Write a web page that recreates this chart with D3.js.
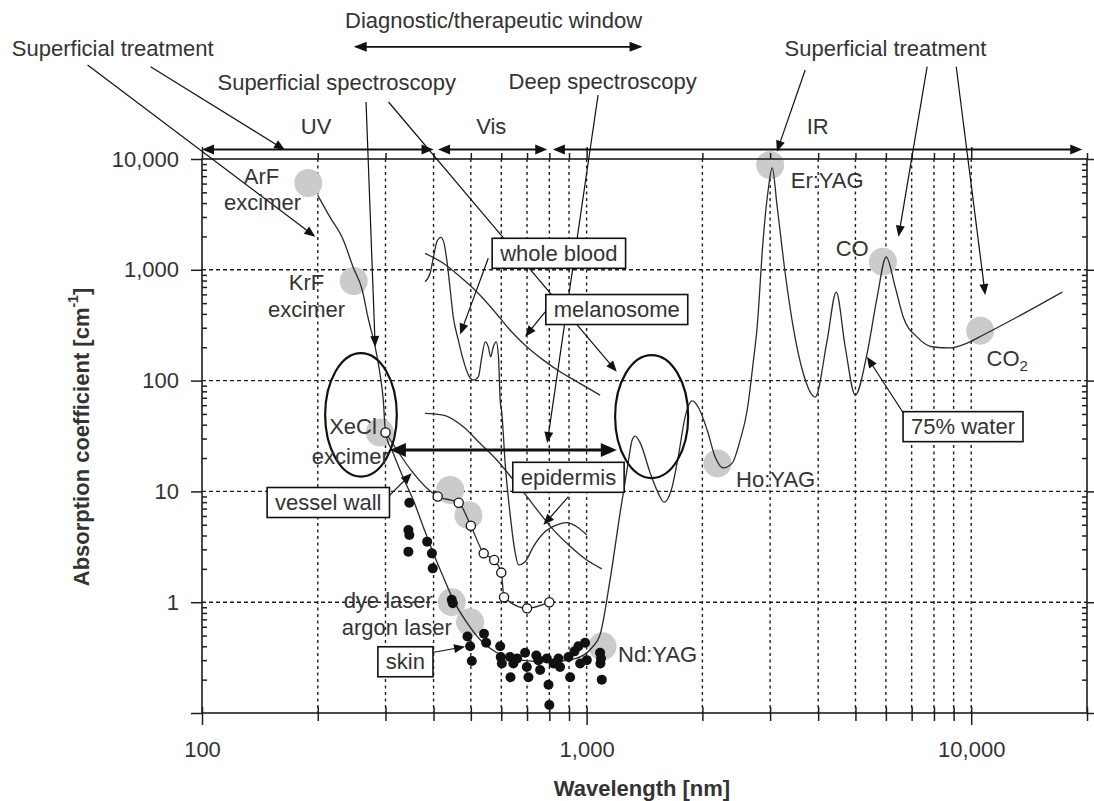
<!DOCTYPE html>
<html>
<head>
<meta charset="utf-8">
<script src="https://cdn.jsdelivr.net/npm/d3@7"></script>
<style>
  body { margin: 0; background: #fff; }
  text { font-family: "Liberation Sans", Arial, Helvetica, sans-serif; fill: #333; }
</style>
</head>
<body>
<svg id="chart" width="1094" height="801"></svg>
<script>
// ---- data: wavelength [nm], absorption coefficient [cm^-1] ----
const skinWater = [[200,4700],[215,3000],[233,1860],[247,1060],[261,657],[270,375],[282,201],[290,117],[296,67],[300,34],
  [314,22.2],[333,13.5],[354,8.4],[376,4.8],[399,2.8],[424,1.69],[450,1.05],[489,0.65],[528,0.46],[585,0.35],[671,0.30],
  [804,0.29],[934,0.31],[1033,0.39],[1084,0.51],[1151,1.6],[1222,6.4],[1282,18],[1313,29],[1337,31.6],[1378,27.4],
  [1463,14.7],[1534,9.7],[1590,8.0],[1669,11],[1730,20.4],[1804,47],[1881,65.5],[1950,57.8],[2058,35.8],[2159,20.4],
  [2265,16.3],[2390,18],[2507,29],[2615,54],[2710,144],[2776,305],[2877,1860],[2965,5250],[3038,8300],[3130,3690],
  [3283,936],[3444,305],[3656,117],[3929,71],[4222,232],[4457,630],[4703,201],[4994,74],[5364,177],[5694,568],
  [6011,1305],[6343,700],[6656,375],[7237,247],[7964,201],[8815,197],[9763,218],[10745,258],[13170,375],[17250,630]];
const wholeBlood = [[380,781],[392,936],[400,1313],[408,1793],[418,1965],[426,1734],[433,1226],[442,657],[450,377],
  [464,232],[478,153],[493,112],[508,101],[523,108],[534,164],[545,224],[555,202],[563,164],[572,202],[582,224],
  [590,164],[596,67],[602,51],[614,18],[632,6.4],[652,2.8],[665,2.17],[692,2.32],[727,3.17],[772,4.19],[837,4.98],
  [888,5.22],[943,4.8],[1001,4.04]];
const melanosome = [[380,1409],[424,1145],[469,866],[518,634],[572,434],[632,286],[699,202],[772,153],[853,120],[943,98],[1084,74]];
const epidermis = [[380,50.7],[424,48.9],[478,38.4],[528,27.2],[584,19.2],[645,12.7],[699,9.0],[757,6.3],[820,4.5],[906,3.2],[1001,2.4],[1095,2.0]];
const vesselWall = [[300,34],[410,9.0],[465,7.9],[500,4.9],[540,2.76],[575,2.4],[600,1.85],[610,1.11],[700,0.88],[800,1.0]];
const skinDots = [[346,7.9],[344,4.48],[346,4.04],[344,2.86],[385,3.52],[396,2.76],[398,2.02],[446,1.05],[449,0.98],
  [490,0.49],[498,0.40],[503,0.295],[541,0.52],[548,0.43],[596,0.40],[598,0.32],[602,0.28],[632,0.32],[634,0.21],
  [645,0.28],[660,0.31],[692,0.35],[699,0.26],[706,0.21],[740,0.33],[749,0.30],[757,0.244],[788,0.31],[796,0.18],
  [800,0.118],[820,0.28],[845,0.31],[853,0.26],[897,0.32],[906,0.21],[930,0.36],[952,0.40],[962,0.28],[991,0.43],
  [1001,0.30],[1084,0.35],[1086,0.28],[1090,0.31],[1095,0.2]];
const laserSpots = [[189,6070],[248,792],[290,34],[442,10.3],[493,6.1],[446,1.0],[498,0.66],[1100,0.40],[2189,17.9],[3001,8830],[5893,1183],[10550,282]];

// ---- axes ----
const xGrid = [200,300,400,500,600,700,800,900,1000,2000,3000,4000,5000,6000,7000,8000,9000,10000];
const xMajor = [100,1000,10000];
const xMajorLabels = ['100','1,000','10,000'];
const yMajor = [0.1,1,10,100,1000,10000];
const yMajorLabels = ['','1','10','100','1,000','10,000'];
const yGrid = [1,10,100,1000];
const yMinor = [];
[0.1,1,10,100,1000].forEach(d => { for (let k = 2; k <= 9; k++) yMinor.push(d * k); });

// ---- annotations (anchored in data units) ----
const textLabels = [['ArF',142.8,7022],['excimer',143.7,4010],['KrF',187,768],['excimer',187,434],
  ['XeCl',247,38.4],['excimer',243,20.6],['dye laser',305,1.03],['argon laser',321,0.59],
  ['Nd:YAG',1530,0.334],['Ho:YAG',3101,12.9],['Er:YAG',4222,6460],['CO',4903,1572]];
const boxLabels = [['whole blood',847,1409],['melanosome',1198,438],['epidermis',897,13.4],
  ['vessel wall',213,7.94],['skin',338,0.29],['75% water',9521,38.4]];
const headerLabels = [['Diagnostic/therapeutic window',573,177000],['Superficial treatment',58.6,98400],
  ['Superficial spectroscopy',224,48800],['Deep spectroscopy',1101,49840],['Superficial treatment',5985,100400],
  ['UV',198,19450],['Vis',565,19450],['IR',3988,19450]];
const leaders = [[50.4,70550,197,1989],[73.5,68080,164.4,12060],[267,32690,282,201],[305.5,32690,1198,120],
  [1071,37800,790,27.3],[3701,63560,3124,11640],[7680,68080,6471,1989],[9141,68080,10875,592],
  [555,1270,469,260],[788,434,692,249],[897,8.96,772,4.97],[302,8.66,351,14.6],[388,0.346,483,0.397],
  [6668,50.7,5356,164]];
const bandArrows = [[100,400],[411,790],[817,19440]];
const bandLevel = 12180;
const windowArrow = [248,1398,103000];
const therapyArrow = [308,1198,23.6];
const ellipses = [[209,321,13.6,177],[1186,1837,13.2,170]];

const svg = d3.select('#chart');
const x = d3.scaleLog().domain([100, 20000]).range([202, 1087]);
const y = d3.scaleLog().domain([0.1, 10000]).range([713, 159]);
const [x0, x1] = x.range();
const [y0, y1] = y.range();
const ink = '#1e1e1e';

// grid
svg.append('g').selectAll('line').data(xGrid).join('line')
  .attr('x1', d => x(d)).attr('x2', d => x(d)).attr('y1', y1).attr('y2', y0)
  .attr('stroke', ink).attr('stroke-width', 1.4).attr('stroke-dasharray', '3,3.5');
svg.append('g').selectAll('line').data(yGrid).join('line')
  .attr('x1', x0).attr('x2', x1).attr('y1', d => y(d)).attr('y2', d => y(d))
  .attr('stroke', ink).attr('stroke-width', 1.4).attr('stroke-dasharray', '4,3');

// laser spots
svg.append('g').selectAll('circle').data(laserSpots).join('circle')
  .attr('cx', d => x(d[0])).attr('cy', d => y(d[1])).attr('r', 14).attr('fill', '#cbcbcb');

// curves
const line = d3.line().x(d => x(d[0])).y(d => y(d[1])).curve(d3.curveMonotoneX);
[skinWater, wholeBlood, melanosome, epidermis, vesselWall].forEach(s => {
  svg.append('path').datum(s).attr('d', line).attr('fill', 'none')
    .attr('stroke', '#2a2a2a').attr('stroke-width', 1.3);
});
svg.append('g').selectAll('circle').data(skinDots).join('circle')
  .attr('cx', d => x(d[0])).attr('cy', d => y(d[1])).attr('r', 5).attr('fill', '#111');
svg.append('g').selectAll('circle').data(vesselWall).join('circle')
  .attr('cx', d => x(d[0])).attr('cy', d => y(d[1])).attr('r', 4.6)
  .attr('fill', '#fff').attr('stroke', '#111').attr('stroke-width', 1.3);

// ellipses
svg.append('g').selectAll('ellipse').data(ellipses).join('ellipse')
  .attr('cx', d => (x(d[0]) + x(d[1])) / 2).attr('cy', d => (y(d[2]) + y(d[3])) / 2)
  .attr('rx', d => (x(d[1]) - x(d[0])) / 2).attr('ry', d => (y(d[2]) - y(d[3])) / 2)
  .attr('fill', 'none').attr('stroke', '#111').attr('stroke-width', 2.2);

// frame + axes
svg.append('rect').attr('x', x0).attr('y', y1).attr('width', x1 - x0).attr('height', y0 - y1)
  .attr('fill', 'none').attr('stroke', ink).attr('stroke-width', 1.6);

function styleAxis(g) {
  g.select('.domain').remove();
  g.selectAll('.tick line').attr('stroke', ink).attr('stroke-width', 1.5);
  g.selectAll('.tick text').style('font-size', '22px').attr('fill', '#333')
    .style('font-family', '"Liberation Sans", Arial, sans-serif');
}
const xMinorTicks = xGrid.filter(d => xMajor.indexOf(d) < 0).concat([20000]);
svg.append('g').attr('transform', `translate(0,${y0})`)
  .call(d3.axisBottom(x).tickValues(xMinorTicks).tickSize(8).tickFormat(''))
  .call(styleAxis).selectAll('.tick line').attr('y1', -6);
svg.append('g').attr('transform', `translate(0,${y0})`)
  .call(d3.axisBottom(x).tickValues(xMajor).tickSize(12).tickPadding(16)
    .tickFormat((d, i) => xMajorLabels[i]))
  .call(styleAxis).selectAll('.tick line').attr('y1', -6);
svg.append('g').attr('transform', `translate(0,${y1})`)
  .call(d3.axisTop(x).tickValues(xMinorTicks).tickSize(6).tickFormat('')).call(styleAxis);
svg.append('g').attr('transform', `translate(0,${y1})`)
  .call(d3.axisTop(x).tickValues(xMajor).tickSize(12).tickFormat('')).call(styleAxis);

svg.append('g').attr('transform', `translate(${x0},0)`)
  .call(d3.axisLeft(y).tickValues(yMajor).tickSize(11).tickPadding(12)
    .tickFormat((d, i) => yMajorLabels[i]))
  .call(styleAxis);
svg.append('g').attr('transform', `translate(${x0},0)`)
  .call(d3.axisRight(y).tickValues(yMinor).tickSize(5).tickFormat('')).call(styleAxis);
svg.append('g').attr('transform', `translate(${x1},0)`)
  .call(d3.axisLeft(y).tickValues(yMinor).tickSize(5).tickFormat('')).call(styleAxis);
svg.append('g').attr('transform', `translate(${x1},0)`)
  .call(d3.axisRight(y).tickValues(yMajor).tickSize(7).tickFormat('')).call(styleAxis);

// axis titles
svg.append('text').attr('x', 642).attr('y', 788).attr('text-anchor', 'middle')
  .attr('dominant-baseline', 'central').style('font-size', '22px').style('font-weight', 'bold')
  .attr('fill', '#222').text('Wavelength [nm]');
const yt = svg.append('text').attr('transform', 'translate(81,437) rotate(-90)')
  .attr('text-anchor', 'middle').attr('dominant-baseline', 'central')
  .style('font-size', '22px').style('font-weight', 'bold').attr('fill', '#222');
yt.append('tspan').text('Absorption coefficient [cm');
yt.append('tspan').attr('dy', -8).style('font-size', '14px').text('-1');
yt.append('tspan').attr('dy', 8).text(']');

// arrows
const arrows = svg.append('g');
function head(px, py, ux, uy, len, hw) {
  const bx = px - ux * len, by = py - uy * len;
  arrows.append('path')
    .attr('d', `M${px},${py}L${bx - uy * hw},${by + ux * hw}L${bx + uy * hw},${by - ux * hw}Z`)
    .attr('fill', '#111');
}
function arrow(ax, ay, bx, by, o) {
  const dx = bx - ax, dy = by - ay, L = Math.hypot(dx, dy), ux = dx / L, uy = dy / L;
  const t = o.len * 0.7;
  arrows.append('line')
    .attr('x1', o.both ? ax + ux * t : ax).attr('y1', o.both ? ay + uy * t : ay)
    .attr('x2', bx - ux * t).attr('y2', by - uy * t)
    .attr('stroke', '#111').attr('stroke-width', o.w);
  head(bx, by, ux, uy, o.len, o.hw);
  if (o.both) head(ax, ay, -ux, -uy, o.len, o.hw);
}
leaders.forEach(d => arrow(x(d[0]), y(d[1]), x(d[2]), y(d[3]), { len: 11, hw: 4.5, w: 1.2 }));
bandArrows.forEach(d => arrow(x(d[0]), y(bandLevel), x(d[1]), y(bandLevel), { len: 12, hw: 5, w: 2, both: true }));
arrow(x(windowArrow[0]), y(windowArrow[2]), x(windowArrow[1]), y(windowArrow[2]), { len: 13, hw: 5, w: 1.8, both: true });
arrow(x(therapyArrow[0]), y(therapyArrow[2]), x(therapyArrow[1]), y(therapyArrow[2]), { len: 16, hw: 7, w: 3, both: true });

// boxed labels
boxLabels.forEach(d => {
  const g = svg.append('g');
  const t = g.append('text').attr('x', x(d[1])).attr('y', y(d[2])).attr('text-anchor', 'middle')
    .attr('dominant-baseline', 'central').style('font-size', '22px').text(d[0]);
  const w = t.node().getComputedTextLength() + 16;
  g.insert('rect', 'text').attr('x', x(d[1]) - w / 2).attr('y', y(d[2]) - 15)
    .attr('width', w).attr('height', 30).attr('fill', '#fff').attr('stroke', '#111').attr('stroke-width', 1.6);
});

// plain labels
svg.append('g').selectAll('text').data(textLabels.concat(headerLabels)).join('text')
  .attr('x', d => x(d[1])).attr('y', d => y(d[2])).attr('text-anchor', 'middle')
  .attr('dominant-baseline', 'central').style('font-size', '22px').text(d => d[0]);
const co2 = svg.append('text').attr('x', x(12410)).attr('y', y(160)).attr('text-anchor', 'middle')
  .attr('dominant-baseline', 'central').style('font-size', '22px');
co2.append('tspan').text('CO');
co2.append('tspan').attr('dy', 7).style('font-size', '15px').text('2');
</script>
</body>
</html>
